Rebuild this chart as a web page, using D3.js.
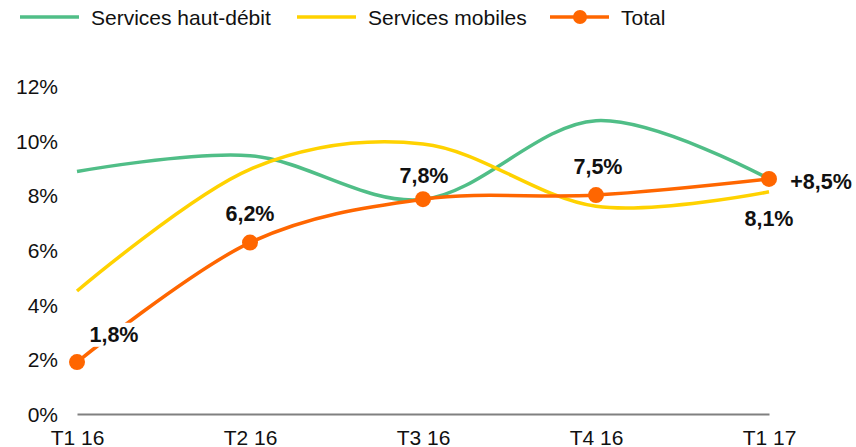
<!DOCTYPE html>
<html>
<head>
<meta charset="utf-8">
<title>Croissance des services</title>
<style>
  body { margin: 0; background: #fff; }
  text { font-family: "Liberation Sans", Arial, Helvetica, sans-serif; fill: #111; }
  .axis text { font-size: 21px; }
  .legend text { font-size: 21px; }
  .val { font-size: 21.5px; font-weight: bold; }
  .line { fill: none; }
</style>
<script src="https://d3js.org/d3.v7.min.js"></script>
</head>
<body>
<div id="chart"></div>
<script>
// data
var quarters = ["T1 16", "T2 16", "T3 16", "T4 16", "T1 17"];
var haut_debit = [8.87, 9.45, 7.85, 10.73, 8.6];
var mobiles = [4.5, 8.95, 9.88, 7.6, 8.13];
var total = [1.9, 6.27, 7.86, 8.01, 8.6];
var totalLabels = ["1,8%", "6,2%", "7,8%", "7,5%", "+8,5%"];
var mobilesLastLabel = "8,1%";
var yTicks = [0, 2, 4, 6, 8, 10, 12];

var colors = { green: "#50be87", yellow: "#ffd200", orange: "#ff6600" };

var W = 856, H = 447;

var svg = d3.select("#chart").append("svg")
  .attr("width", W)
  .attr("height", H);

var x = d3.scalePoint()
  .domain(quarters)
  .range([77, 769]);

var y = d3.scaleLinear()
  .domain([0, 12])
  .range([414, 86]);

// axes
var yAxis = d3.axisLeft(y)
  .tickValues(yTicks)
  .tickFormat(d => d + "%")
  .tickSize(0)
  .tickPadding(19);

svg.append("g")
  .attr("class", "y axis")
  .attr("transform", "translate(77,0)")
  .call(yAxis)
  .call(g => g.select(".domain").remove())
  .selectAll("text")
  .attr("dy", "0.36em");

var xAxis = d3.axisBottom(x)
  .tickSize(0)
  .tickSizeOuter(0)
  .tickPadding(16);

svg.append("g")
  .attr("class", "x axis")
  .attr("transform", "translate(0," + y(0) + ")")
  .call(xAxis)
  .call(g => g.select(".domain").attr("stroke", "#808080").attr("stroke-width", 2));

svg.selectAll(".axis text").attr("fill", "#111");

// lines
var line = d3.line()
  .x((d, i) => x(quarters[i]))
  .y(d => y(d))
  .curve(d3.curveCatmullRom.alpha(0));

svg.append("path")
  .attr("class", "line")
  .attr("d", line(haut_debit))
  .attr("stroke", colors.green)
  .attr("stroke-width", 3.5);

svg.append("path")
  .attr("class", "line")
  .attr("d", line(mobiles))
  .attr("stroke", colors.yellow)
  .attr("stroke-width", 3.5);

svg.append("path")
  .attr("class", "line")
  .attr("d", line(total))
  .attr("stroke", colors.orange)
  .attr("stroke-width", 3.5);

svg.append("g").selectAll("circle")
  .data(total)
  .enter()
  .append("circle")
  .attr("cx", (d, i) => x(quarters[i]))
  .attr("cy", d => y(d))
  .attr("r", 8)
  .attr("fill", colors.orange);

// value labels (offsets from their point)
var labelOffsets = [[37, -28], [0, -29], [1, -24], [2, -29], [52, 2]];

var labels = svg.append("g");
total.forEach(function(v, i) {
  var g = labels.append("g");
  var t = g.append("text")
    .attr("class", "val")
    .attr("x", x(quarters[i]) + labelOffsets[i][0])
    .attr("y", y(v) + labelOffsets[i][1])
    .attr("dy", "0.36em")
    .attr("text-anchor", "middle")
    .text(totalLabels[i]);
  var b = t.node().getBBox();
  g.insert("rect", "text")
    .attr("x", b.x - 2).attr("y", b.y)
    .attr("width", b.width + 4).attr("height", b.height)
    .attr("fill", "#fff");
});

var last = mobiles.length - 1;
labels.append("text")
  .attr("class", "val")
  .attr("x", x(quarters[last]))
  .attr("y", y(mobiles[last]) + 26)
  .attr("dy", "0.36em")
  .attr("text-anchor", "middle")
  .text(mobilesLastLabel);

// legend
var legendItems = [
  { name: "Services haut-débit", color: colors.green, x: 20, dot: false },
  { name: "Services mobiles", color: colors.yellow, x: 297, dot: false },
  { name: "Total", color: colors.orange, x: 550, dot: true }
];

var legend = svg.append("g").attr("class", "legend");
legendItems.forEach(function(d) {
  legend.append("line")
    .attr("x1", d.x).attr("x2", d.x + 59)
    .attr("y1", 17).attr("y2", 17)
    .attr("stroke", d.color)
    .attr("stroke-width", 3.5);
  if (d.dot) {
    legend.append("circle")
      .attr("cx", d.x + 30).attr("cy", 17)
      .attr("r", 7)
      .attr("fill", d.color);
  }
  legend.append("text")
    .attr("x", d.x + 71)
    .attr("y", 17)
    .attr("dy", "0.36em")
    .text(d.name);
});
</script>
</body>
</html>
